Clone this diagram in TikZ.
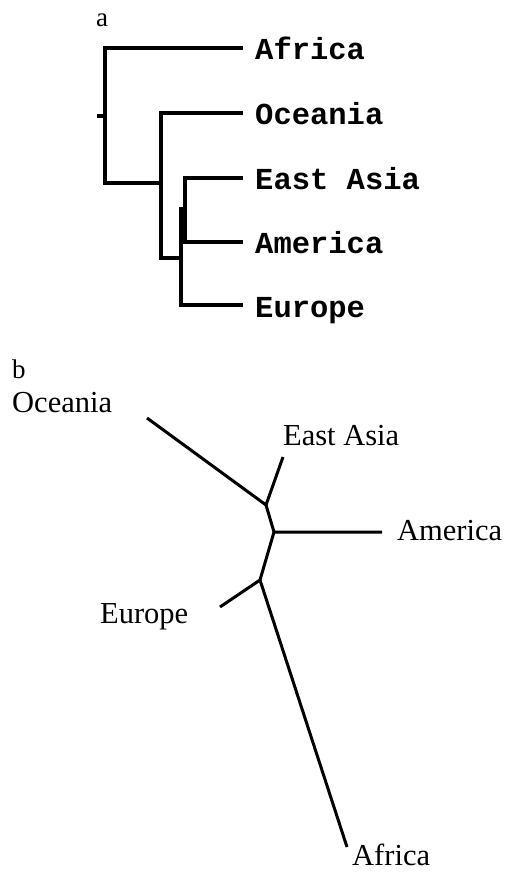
\documentclass[tikz,border=0pt]{standalone}
\usepackage{fontspec}
\setmainfont{Liberation Serif}
\newfontfamily\treemono{Liberation Mono}
\tikzset{
  branch/.style={line width=3.3pt, line join=miter, line cap=butt},
  monolabel/.style={anchor=base west, inner sep=0pt, font=\treemono\bfseries\fontsize{30.5}{36}\selectfont},
  seriflabel/.style={anchor=base west, inner sep=0pt, font=\fontsize{30.5}{36}\selectfont},
  panellabel/.style={anchor=base west, inner sep=0pt, font=\fontsize{27}{30}\selectfont}
}
\begin{document}
\begin{tikzpicture}[x=1pt, y=-1pt]
\useasboundingbox (0,0) rectangle (506,874);

% ---- panel a: rooted tree ----
\node[panellabel] (la) at (96,27) {a};

\coordinate (stub) at (97,116);
\coordinate (root) at (105,116);
\coordinate (rtop) at (105,48);
\coordinate (rbot) at (105,183);
\coordinate (n1) at (161,183);
\coordinate (n1top) at (161,113);
\coordinate (n1bot) at (161,258);
\coordinate (n2) at (181,258);
\coordinate (n2top) at (181,207);
\coordinate (n2bot) at (181,305);
\coordinate (n3top) at (185,178);
\coordinate (n3bot) at (185,242);
\coordinate (n3) at (181,210);
\coordinate (n3mid) at (185,210);

\coordinate (tAf) at (243,48);
\coordinate (tOc) at (243,113);
\coordinate (tEA) at (243,178);
\coordinate (tAm) at (243,242);
\coordinate (tEu) at (243,305);

\node[monolabel] (aAf) at (255,60)  {Africa};
\node[monolabel] (aOc) at (255,125) {Oceania};
\node[monolabel] (aEA) at (255,190) {East Asia};
\node[monolabel] (aAm) at (255,254) {America};
\node[monolabel] (aEu) at (255,317) {Europe};

\draw[branch] (stub) -- (root);
\draw[branch] (tAf) -- (rtop) -- (rbot) -- (n1);
\draw[branch] (tOc) -- (n1top) -- (n1bot) -- (n2);
\draw[branch] (n2top) -- (n2bot) -- (tEu);
\draw[branch] (n3) -- (n3mid);
\draw[branch] (tEA) -- (n3top) -- (n3bot) -- (tAm);

% ---- panel b: unrooted tree ----
\node[panellabel] (lb) at (12,378) {b};

\coordinate (u1) at (266,505);
\coordinate (u2) at (274,532);
\coordinate (u3) at (260,580);
\coordinate (eOc) at (147,418);
\coordinate (eEA) at (283,457);
\coordinate (eAm) at (382,532);
\coordinate (eEu) at (220,607);
\coordinate (eAf) at (347,847);

\node[seriflabel] (bOc) at (12,412)  {Oceania};
\node[seriflabel] (bEA) at (283,445) {East Asia};
\node[seriflabel] (bAm) at (397,540) {America};
\node[seriflabel] (bEu) at (100,623) {Europe};
\node[seriflabel] (bAf) at (352,865) {Africa};

\draw[branch, line width=3pt] (eOc) -- (u1) -- (eEA);
\draw[branch, line width=3pt] (u1) -- (u2) -- (eAm);
\draw[branch, line width=3pt] (u2) -- (u3) -- (eEu);
\draw[branch, line width=3pt] (u3) -- (eAf);
\end{tikzpicture}
\end{document}
